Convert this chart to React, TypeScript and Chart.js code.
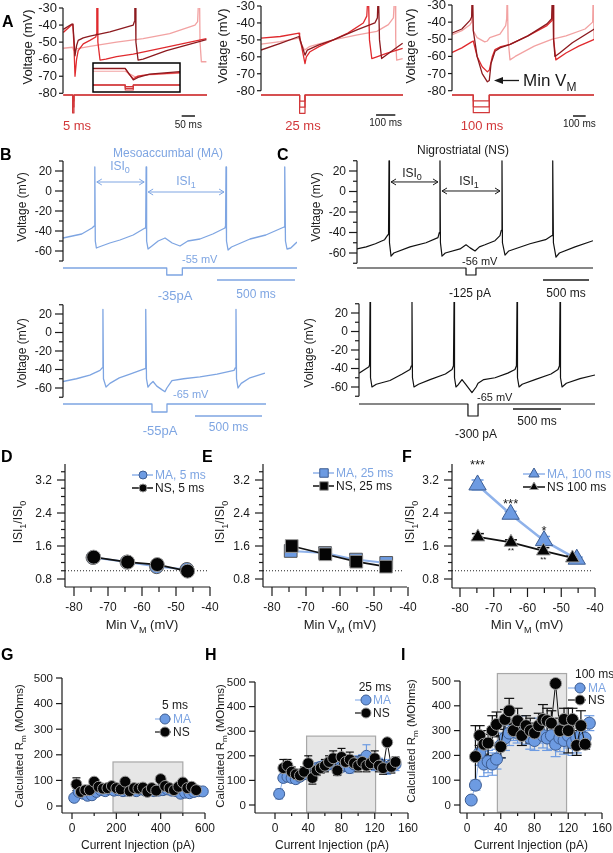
import React, { useEffect, useRef } from 'react';
import { Chart, registerables } from 'chart.js';

Chart.register(...registerables);

const W = 613;
const H = 853;
const FONT = 'Arial, "Liberation Sans", Helvetica, sans-serif';

type Pt = [number, number];
type Part = string | { sub: string };

// ---------- colours ----------
const RED_D = '#8c1a1f';
const RED_M = '#e02a2e';
const RED_L = '#f2a2a2';
const RED_S = '#d2383a';
const BLUE_T = '#7ea5e2';
const MA_FILL = '#6d9be2';
const MA_EDGE = '#3d5d92';
const MA_LINE = '#8fb2ea';
const NS_FILL = '#050505';
const NS_EDGE = '#9a9a9a';
const INK = '#1a1a1a';
const BOX_FILL = '#e6e6e6';
const BOX_EDGE = '#a8a8a8';

// ================= DATA =================
// Panel A (time ms, membrane voltage mV)
const aVoltTicks = [-30, -40, -50, -60, -70, -80];
const aStimLevels = [-1, -2, -3];
const a1Pulse: Pt = [35, 40];
const a2Pulse: Pt = [200, 228];
const a3Pulse: Pt = [170, 296];
const a1Dark: Pt[] = [[0, -42.5], [31, -39.5], [36, -39.5], [40, -48], [44, -58], [50, -52], [56, -49], [75, -47.5], [100, -46.5], [175, -44], [263, -40], [267, -38], [269, -20], [271, -20], [273, -50], [281, -60.5], [300, -60], [388, -55], [538, -48.5]];
const a1Red: Pt[] = [[0, -44.3], [31, -40], [36, -39.5], [40, -52], [44, -70], [50, -60], [56, -55], [75, -51], [100, -49], [122, -47], [125, -45], [126, -20], [128, -20], [130, -50], [138, -60.5], [160, -60], [200, -58.5], [263, -57], [388, -53], [538, -48]];
const a1Pink: Pt[] = [[0, -53.6], [35, -53], [40, -55], [48, -54], [100, -52.5], [200, -50], [300, -48], [400, -45], [495, -40], [505, -38], [510, -20], [512, -20], [514, -50], [519, -61.5], [538, -61.5]];
const insetPulse: Pt = [20, 25];
const insetDark: Pt[] = [[0, -40], [20, -40], [22, -47], [25, -58], [28, -54], [35, -49], [54, -45]];
const insetRed: Pt[] = [[0, -40.5], [20, -40.5], [22, -48], [25, -56], [28, -52], [35, -49.5], [54, -46.5]];
const insetPink: Pt[] = [[0, -44.5], [20, -44.5], [23, -49], [26, -53], [31, -50.5], [54, -47.5]];
const a2Red: Pt[] = [[0, -49], [100, -48], [197, -46], [200, -48], [228, -64], [235, -60], [254, -57], [300, -54], [375, -50], [450, -46], [530, -40], [548, -36], [556, -20], [558, -20], [562, -50], [574, -61], [600, -60], [650, -58], [734, -55]];
const a2Dark: Pt[] = [[0, -56], [100, -52], [197, -48], [200, -49], [228, -59], [240, -56], [300, -53], [375, -50], [500, -44], [590, -40], [603, -37], [608, -20], [610, -20], [614, -50], [625, -61], [660, -58], [734, -52]];
const a2Pink: Pt[] = [[0, -52.5], [100, -51], [197, -49], [202, -51], [226, -56], [250, -54], [375, -50], [500, -47], [600, -45], [660, -41], [686, -37], [694, -20], [696, -20], [698, -50], [703, -62], [734, -61]];
const a3Dark: Pt[] = [[0, -46.5], [80, -44], [144, -39], [157, -37], [163, -20], [166, -20], [170, -45], [200, -60], [240, -70], [281, -74.8], [296, -74], [310, -64], [341, -57], [380, -55], [460, -53], [600, -48], [750, -41], [787, -38], [795, -20], [798, -20], [802, -50], [813, -60], [850, -58], [950, -52], [1123, -44]];
const a3Red: Pt[] = [[0, -57.8], [80, -55], [157, -51.5], [170, -51], [200, -60], [240, -66], [281, -69], [296, -68], [320, -60], [341, -56], [380, -54.5], [460, -53], [600, -48], [750, -42], [790, -39], [798, -20], [800, -20], [805, -50], [820, -62], [900, -58], [1000, -54], [1123, -50]];
const a3Pink: Pt[] = [[0, -47.5], [80, -45], [144, -41.5], [157, -40], [163, -20], [166, -20], [170, -45], [200, -49], [260, -51.5], [281, -51], [300, -49], [380, -47], [425, -42], [433, -38], [438, -20], [440, -20], [444, -50], [459, -62], [500, -60], [650, -54], [787, -50], [900, -48], [1050, -44], [1110, -40], [1115, -20], [1118, -20], [1121, -50], [1123, -60]];

// Panels B, C (time ms, voltage mV, injected current pA)
const bcMajor = [-60, -40, -20, 0, 20];
const bcMinor = [-70, -50, -30, -10, 10, 30];
const b1Trace: Pt[] = [[0, -47], [60, -45], [120, -43], [186, -37], [200, -35], [204, 24], [207, -50], [214, -57], [230, -56], [300, -52], [365, -49], [450, -44], [526, -37], [530, -35], [533, 24], [536, -50], [545, -58], [570, -55], [610, -50], [654, -47], [700, -52], [750, -55], [770, -53], [800, -50], [878, -48], [960, -43], [1038, -37], [1042, -35], [1045, 24], [1048, -50], [1058, -59], [1080, -56], [1199, -48], [1300, -44], [1417, -36], [1420, -35], [1423, 24], [1426, -50], [1436, -58], [1460, -57], [1500, -51]];
const b1Pulse: Pt = [665, 765];
const b1Amp = -35;
const b1Spikes = [204, 533, 1045];
const b2Trace: Pt[] = [[0, -53], [100, -50], [200, -46], [276, -41], [294, -38], [298, 25], [302, -50], [321, -59], [350, -55], [420, -49], [500, -45], [612, -39], [616, -37], [619, 25], [623, -50], [634, -59], [650, -56], [672, -53], [700, -58], [740, -62], [761, -64], [775, -60], [813, -52], [900, -50], [1022, -48], [1150, -45], [1276, -41], [1287, -38], [1291, 25], [1295, -50], [1306, -60], [1330, -55], [1395, -49], [1507, -44]];
const b2Pulse: Pt = [664, 776];
const b2Amp = -55;
const c1Trace: Pt[] = [[0, -56], [100, -54], [200, -51], [300, -47], [337, -42], [343, -38], [348, 30], [353, -50], [370, -63], [400, -60], [576, -54], [750, -50], [880, -45], [895, -40], [902, 30], [907, -50], [924, -63], [960, -60], [1120, -56], [1185, -52], [1230, -55], [1283, -58], [1330, -54], [1391, -52], [1500, -48], [1554, -43], [1568, -38], [1576, 30], [1581, -50], [1609, -62], [1650, -58], [1880, -51], [2050, -47], [2120, -43], [2125, -38], [2130, 30], [2135, -50], [2163, -64], [2200, -60], [2370, -54], [2565, -48]];
const c1Pulse: Pt = [1185, 1293];
const c1Amp = -125;
const c1Spikes = [348, 902, 1576];
const c2Trace: Pt[] = [[0, -45], [104, -38], [110, -36], [115, 32], [120, -50], [135, -60], [180, -57], [323, -53], [450, -46], [531, -41], [546, -37], [552, 32], [557, -50], [573, -60], [620, -57], [740, -52], [900, -46], [969, -41], [984, -37], [990, 32], [995, -50], [1010, -60], [1030, -58], [1073, -52], [1110, -57], [1177, -66], [1220, -60], [1240, -56], [1300, -52], [1417, -50], [1550, -45], [1625, -41], [1640, -37], [1646, 32], [1651, -50], [1667, -60], [1700, -57], [1833, -52], [2000, -46], [2073, -41], [2088, -37], [2094, 32], [2099, -50], [2115, -60], [2160, -56], [2302, -51], [2458, -47]];
const c2Pulse: Pt = [1135, 1240];
const c2Amp = -300;

// Panels D, E, F (Min VM mV vs ISI1/ISI0)
const ratioTicks = [0.8, 1.6, 2.4, 3.2];
const ratioMinor = [1.0, 1.2, 1.4, 1.8, 2.0, 2.2, 2.6, 2.8, 3.0, 3.4];
const vmTicks = [-80, -70, -60, -50, -40];
const vmMinor = [-75, -65, -55, -45];
const dMaX = [-74.4, -64.4, -55.7, -46.8];
const dMaY = [1.32, 1.21, 1.1, 1.03];
const dMaErr = [0.04, 0.04, 0.05, 0.06];
const dNsX = [-74.2, -64.2, -55.5, -46.6];
const dNsY = [1.33, 1.21, 1.15, 0.99];
const dNsErr = [0.03, 0.03, 0.04, 0.06];
const eMaX = [-74.5, -64.4, -55.3, -46.4];
const eMaY = [1.48, 1.43, 1.27, 1.19];
const eMaErr = [0.05, 0.04, 0.05, 0.04];
const eNsX = [-74.2, -64.3, -55.2, -46.5];
const eNsY = [1.6, 1.4, 1.22, 1.1];
const eNsErr = [0.05, 0.04, 0.05, 0.04];
const fMaX = [-74.8, -65, -55.1, -45.4];
const fMaY = [3.08, 2.37, 1.73, 1.28];
const fMaErr = [0.12, 0.07, 0.1, 0.05];
const fNsX = [-74.7, -64.9, -55.3, -46.7];
const fNsY = [1.82, 1.69, 1.48, 1.31];
const fNsErr = [0.08, 0.06, 0.08, 0.05];
const fMaStars = ['***', '***', '*', ''];
const fMaStarY = [3.47, 2.52, 1.87, 0];
const fNsStars = ['', '**', '**', ''];
const fNsStarY = [0, 1.42, 1.22, 0];

// Panels G, H, I (current injection pA vs calculated Rm MOhms)
const rmTicks = [0, 100, 200, 300, 400, 500];
const gTicks = [0, 200, 400, 600];
const gMinor = [100, 300, 500];
const hiTicks = [0, 40, 80, 120, 160];
const hiMinor = [20, 60, 100, 140];
const gBoxX = [185, 500];
const gBoxTop = 172;
const hBoxX = [38, 121];
const hBoxTop = 280;
const iBoxX = [36, 118];
const iBoxTop = 530;
const gNsX = [20, 40, 60, 80, 100, 120, 140, 160, 180, 200, 220, 240, 260, 280, 300, 320, 340, 360, 380, 400, 420, 440, 460, 480, 500, 520, 540, 560];
const gNsY = [85, 55, 62, 62, 95, 75, 68, 70, 78, 70, 65, 95, 58, 70, 68, 72, 55, 70, 60, 105, 78, 70, 62, 75, 92, 70, 75, 62];
const gNsErr = [25, 10, 10, 8, 10, 10, 10, 10, 10, 10, 10, 12, 10, 10, 10, 10, 10, 10, 10, 12, 10, 10, 10, 10, 12, 10, 10, 8];
const gMaX = [10, 30, 50, 70, 90, 110, 130, 150, 170, 190, 210, 230, 250, 270, 290, 310, 330, 350, 370, 390, 410, 430, 450, 470, 490, 510, 530, 550, 570, 590];
const gMaY = [32, 55, 48, 40, 42, 55, 62, 58, 65, 60, 62, 58, 60, 62, 58, 65, 60, 62, 58, 60, 62, 65, 60, 58, 48, 52, 50, 55, 58, 57];
const gMaErr = [10, 8, 8, 8, 8, 8, 8, 8, 8, 8, 8, 8, 8, 8, 8, 8, 8, 8, 8, 8, 8, 8, 8, 8, 8, 8, 8, 8, 8, 8];
const hNsX = [10, 15, 20, 25, 30, 35, 40, 45, 50, 55, 60, 65, 70, 75, 80, 85, 90, 95, 100, 105, 110, 115, 120, 125, 130, 135, 140, 145];
const hNsY = [150, 160, 135, 125, 120, 135, 170, 110, 140, 150, 160, 175, 190, 140, 195, 175, 185, 170, 160, 175, 160, 170, 190, 160, 150, 255, 155, 175];
const hNsErr = [35, 25, 20, 20, 20, 20, 30, 25, 20, 20, 25, 25, 30, 20, 35, 25, 30, 25, 25, 25, 25, 25, 30, 25, 25, 10, 25, 20];
const hMaX = [5, 10, 15, 20, 25, 30, 35, 40, 45, 50, 55, 60, 65, 70, 75, 80, 85, 90, 95, 100, 105, 110, 115, 120, 125, 130, 135, 140, 145];
const hMaY = [45, 110, 115, 110, 105, 115, 125, 135, 140, 150, 155, 160, 165, 170, 160, 155, 160, 150, 165, 175, 180, 200, 170, 165, 165, 160, 150, 160, 165];
const hMaErr = [20, 15, 15, 15, 15, 15, 15, 20, 20, 20, 20, 20, 20, 25, 20, 20, 20, 20, 25, 25, 25, 45, 25, 25, 25, 25, 25, 25, 25];
const iNsX = [10, 15, 20, 25, 30, 35, 40, 45, 50, 55, 60, 65, 70, 75, 80, 85, 90, 95, 100, 105, 110, 115, 120, 125, 130, 135, 140];
const iNsY = [195, 280, 245, 250, 300, 325, 235, 345, 380, 300, 340, 280, 320, 300, 290, 320, 345, 340, 330, 490, 300, 345, 300, 345, 240, 320, 245];
const iNsErr = [125, 40, 40, 50, 60, 50, 45, 40, 50, 25, 50, 40, 40, 50, 40, 50, 60, 50, 50, 10, 50, 45, 90, 45, 40, 60, 20];
const iMaX = [5, 10, 15, 20, 25, 30, 35, 40, 45, 50, 55, 60, 65, 70, 75, 80, 85, 90, 95, 100, 105, 110, 115, 120, 125, 130, 135, 140, 145];
const iMaY = [20, 80, 210, 165, 175, 165, 185, 240, 270, 290, 300, 290, 310, 290, 270, 260, 300, 280, 270, 280, 245, 270, 260, 280, 250, 270, 280, 270, 330];
const iMaErr = [10, 20, 50, 50, 45, 45, 40, 50, 50, 50, 40, 40, 50, 45, 45, 40, 50, 50, 50, 55, 50, 55, 55, 50, 50, 60, 55, 40, 30];

// ================= HELPERS =================
const toXY = (pts: Pt[]) => pts.map(([x, y]) => ({ x, y }));
const zipXY = (xs: number[], ys: number[]) => xs.map((x, i) => ({ x, y: ys[i] }));

function cal(p1: number, v1: number, p2: number, v2: number, pa: number, pb: number): [number, number] {
  const k = (v2 - v1) / (p2 - p1);
  return [v1 + (pa - p1) * k, v1 + (pb - p1) * k];
}

function pulseTrace(p: Pt, level: number, tEnd: number): Pt[] {
  return [[0, 0], [p[0], 0], [p[0], level], [p[1], level], [p[1], 0], [tEnd, 0]];
}

function trace(pts: Pt[], color: string, width = 1.3, yAxisID = 'y') {
  return {
    data: toXY(pts), showLine: true, borderColor: color, borderWidth: width,
    pointRadius: 0, pointHoverRadius: 0, yAxisID, borderJoinStyle: 'round', tension: 0,
  };
}

function series(xs: number[], ys: number[], o: any) {
  return {
    data: zipXY(xs, ys), showLine: true, borderColor: o.line, borderWidth: o.lw,
    pointStyle: o.style, pointRadius: o.r, pointHoverRadius: o.r,
    pointBackgroundColor: o.fill, pointBorderColor: o.stroke, pointBorderWidth: o.bw ?? 1,
    clip: false, tension: 0,
  };
}

function cfg(area: number[], scales: Record<string, [number, number]>, datasets: any[], under?: (c: any) => void, over?: (c: any) => void) {
  const [L, T, R, B] = area;
  const sc: any = {};
  Object.keys(scales).forEach((k) => {
    sc[k] = { type: 'linear', display: false, min: scales[k][0], max: scales[k][1] };
  });
  return {
    type: 'scatter',
    data: { datasets },
    options: {
      responsive: false, animation: false, events: [],
      layout: { padding: { left: L, top: T, right: W - R, bottom: H - B } },
      plugins: { legend: { display: false }, tooltip: { enabled: false } },
      scales: sc,
    },
    plugins: [{
      id: 'deco',
      beforeDatasetsDraw: (c: any) => { if (under) { c.ctx.save(); under(c); c.ctx.restore(); } },
      afterDatasetsDraw: (c: any) => { if (over) { c.ctx.save(); over(c); c.ctx.restore(); } },
    }],
  };
}

const X = (c: any, v: number, id = 'x') => c.scales[id].getPixelForValue(v);
const Y = (c: any, v: number, id = 'y') => c.scales[id].getPixelForValue(v);

function seg(ctx: CanvasRenderingContext2D, x1: number, y1: number, x2: number, y2: number) {
  ctx.beginPath(); ctx.moveTo(x1, y1); ctx.lineTo(x2, y2); ctx.stroke();
}

function rich(ctx: CanvasRenderingContext2D, parts: Part[], x: number, y: number, size: number, color: string,
  align: 'left' | 'center' | 'right' = 'left', rot = 0, bold = false) {
  ctx.save();
  ctx.translate(x, y);
  if (rot) ctx.rotate(rot);
  const items = parts.map((p) => (typeof p === 'string' ? { s: p, sub: false } : { s: p.sub, sub: true }));
  const f = (sub: boolean) => `${bold ? 'bold ' : ''}${sub ? Math.round(size * 0.72) : size}px ${FONT}`;
  let total = 0;
  const ws = items.map((it) => { ctx.font = f(it.sub); const w = ctx.measureText(it.s).width; total += w; return w; });
  let cx = align === 'left' ? 0 : align === 'center' ? -total / 2 : -total;
  ctx.fillStyle = color; ctx.textAlign = 'left'; ctx.textBaseline = 'alphabetic';
  items.forEach((it, i) => { ctx.font = f(it.sub); ctx.fillText(it.s, cx, it.sub ? size * 0.28 : 0); cx += ws[i]; });
  ctx.restore();
}

const txt = (ctx: CanvasRenderingContext2D, s: string, x: number, y: number, size: number, color: string, align: 'left' | 'center' | 'right' = 'left', bold = false) =>
  rich(ctx, [s], x, y, size, color, align, 0, bold);

const vtext = (ctx: CanvasRenderingContext2D, parts: Part[], cx: number, cy: number, size: number, color: string) =>
  rich(ctx, parts, cx + size * 0.36, cy, size, color, 'center', -Math.PI / 2);

const letter = (ctx: CanvasRenderingContext2D, s: string, x: number, y: number) => txt(ctx, s, x, y, 16, '#000', 'left', true);

interface AxisOpt { from: number; to: number; major: number[]; minor?: number[]; len?: number; mlen?: number; gap?: number; size?: number; dec?: number; lw?: number }

function yAxis(c: any, o: AxisOpt) {
  const ctx: CanvasRenderingContext2D = c.ctx;
  const x = c.chartArea.left;
  ctx.save();
  ctx.strokeStyle = INK; ctx.fillStyle = INK; ctx.lineWidth = o.lw ?? 1.2;
  seg(ctx, x, Y(c, o.from), x, Y(c, o.to));
  const len = o.len ?? 5;
  (o.minor || []).forEach((v) => { const y = Y(c, v); seg(ctx, x - (o.mlen ?? 3), y, x, y); });
  ctx.font = `${o.size ?? 12}px ${FONT}`; ctx.textAlign = 'right'; ctx.textBaseline = 'middle';
  o.major.forEach((v) => {
    const y = Y(c, v);
    seg(ctx, x - len, y, x, y);
    ctx.fillText(o.dec != null ? v.toFixed(o.dec) : String(v), x - len - (o.gap ?? 3), y + 0.5);
  });
  ctx.restore();
}

function xAxis(c: any, o: AxisOpt) {
  const ctx: CanvasRenderingContext2D = c.ctx;
  const y = c.chartArea.bottom;
  ctx.save();
  ctx.strokeStyle = INK; ctx.fillStyle = INK; ctx.lineWidth = o.lw ?? 1.2;
  seg(ctx, X(c, o.from), y, X(c, o.to), y);
  const len = o.len ?? 5;
  (o.minor || []).forEach((v) => { const x = X(c, v); seg(ctx, x, y, x, y + (o.mlen ?? 3)); });
  ctx.font = `${o.size ?? 12}px ${FONT}`; ctx.textAlign = 'center'; ctx.textBaseline = 'top';
  o.major.forEach((v) => {
    const x = X(c, v);
    seg(ctx, x, y, x, y + len);
    ctx.fillText(String(v), x, y + len + (o.gap ?? 3));
  });
  ctx.restore();
}

function drawMarker(ctx: CanvasRenderingContext2D, x: number, y: number, m: any) {
  ctx.beginPath();
  if (m.style === 'circle') ctx.arc(x, y, m.r, 0, Math.PI * 2);
  else if (m.style === 'rect') { const s = m.r * Math.SQRT1_2; ctx.rect(x - s, y - s, 2 * s, 2 * s); }
  else {
    const a = (2 * Math.PI) / 3;
    ctx.moveTo(x, y - m.r);
    ctx.lineTo(x + Math.sin(a) * m.r, y - Math.cos(a) * m.r);
    ctx.lineTo(x + Math.sin(2 * a) * m.r, y - Math.cos(2 * a) * m.r);
    ctx.closePath();
  }
  ctx.fillStyle = m.fill; ctx.fill();
  ctx.strokeStyle = m.stroke; ctx.lineWidth = 1; ctx.stroke();
}

function legendItem(ctx: CanvasRenderingContext2D, x1: number, x2: number, mx: number, tx: number, y: number, line: string, lw: number, m: any, text: string, color: string, size = 12) {
  ctx.save();
  ctx.strokeStyle = line; ctx.lineWidth = lw; seg(ctx, x1, y, x2, y);
  drawMarker(ctx, mx, y, m);
  ctx.font = `${size}px ${FONT}`; ctx.fillStyle = color; ctx.textAlign = 'left'; ctx.textBaseline = 'middle';
  ctx.fillText(text, tx, y + 0.5);
  ctx.restore();
}

function errBars(c: any, xs: number[], ys: number[], es: number[], color: string, cap = 4, lw = 1.2) {
  const ctx: CanvasRenderingContext2D = c.ctx;
  ctx.save(); ctx.strokeStyle = color; ctx.lineWidth = lw;
  xs.forEach((xv, i) => {
    const x = X(c, xv); const y1 = Y(c, ys[i] + es[i]); const y2 = Y(c, ys[i] - es[i]);
    seg(ctx, x, y1, x, y2); seg(ctx, x - cap, y1, x + cap, y1); seg(ctx, x - cap, y2, x + cap, y2);
  });
  ctx.restore();
}

function scaleBar(c: any, t0: number, len: number, y: number, label: string, ty: number, size: number, color: string) {
  const ctx: CanvasRenderingContext2D = c.ctx;
  const x0 = X(c, t0); const x1 = X(c, t0 + len);
  ctx.save(); ctx.strokeStyle = color; ctx.lineWidth = 1.5; seg(ctx, x0, y, x1, y); ctx.restore();
  txt(ctx, label, (x0 + x1) / 2, ty, size, color, 'center');
}

function isiArrow(c: any, t0: number, t1: number, v: number, color: string) {
  const ctx: CanvasRenderingContext2D = c.ctx;
  const x0 = X(c, t0) + 2; const x1 = X(c, t1) - 2; const y = Y(c, v);
  ctx.save(); ctx.strokeStyle = color; ctx.lineWidth = 1;
  seg(ctx, x0, y, x1, y);
  ctx.beginPath(); ctx.moveTo(x0 + 5, y - 3); ctx.lineTo(x0, y); ctx.lineTo(x0 + 5, y + 3); ctx.stroke();
  ctx.beginPath(); ctx.moveTo(x1 - 5, y - 3); ctx.lineTo(x1, y); ctx.lineTo(x1 - 5, y + 3); ctx.stroke();
  ctx.restore();
}

function grayBox(c: any, bx: number[], top: number) {
  const ctx: CanvasRenderingContext2D = c.ctx;
  const x0 = X(c, bx[0]); const x1 = X(c, bx[1]); const y0 = Y(c, top); const y1 = c.chartArea.bottom - 1;
  ctx.save(); ctx.fillStyle = BOX_FILL; ctx.fillRect(x0, y0, x1 - x0, y1 - y0);
  ctx.strokeStyle = BOX_EDGE; ctx.lineWidth = 1.2; ctx.strokeRect(x0, y0, x1 - x0, y1 - y0); ctx.restore();
}

const aStimSets = (p: Pt, tEnd: number) => aStimLevels.map((l) => trace(pulseTrace(p, l, tEnd), RED_S, 1.2, 'ys'));
const aAxis = (c: any, lx: number, ly: number) => {
  yAxis(c, { from: -80, to: -30, major: aVoltTicks, len: 4, gap: 2, size: 13 });
  vtext(c.ctx, ['Voltage (mV)'], lx, ly, 13, INK);
};
const bcAxis = (c: any, lx: number, ly: number) => {
  yAxis(c, { from: -70, to: 30, major: bcMajor, minor: bcMinor, len: 8, mlen: 4, gap: 3, size: 12 });
  vtext(c.ctx, ['Voltage (mV)'], lx, ly, 12, INK);
};
const ratioAxes = (c: any, lx: number, tx: number) => {
  yAxis(c, { from: c.scales.y.min, to: c.scales.y.max, major: ratioTicks, minor: ratioMinor, len: 8, mlen: 4, gap: 5, size: 12, dec: 1 });
  xAxis(c, { from: c.scales.x.min, to: c.scales.x.max, major: vmTicks, minor: vmMinor, len: 9, mlen: 5, gap: 6, size: 12 });
  vtext(c.ctx, ['ISI', { sub: '1' }, '/ISI', { sub: '0' }], lx, 522, 12, INK);
  rich(c.ctx, ['Min V', { sub: 'M' }, ' (mV)'], tx, 629, 13, INK, 'center');
};
const dotted = (c: any) => {
  const ctx: CanvasRenderingContext2D = c.ctx;
  ctx.save(); ctx.strokeStyle = '#222'; ctx.lineWidth = 1; ctx.setLineDash([1, 2]);
  const y = Y(c, 1.0); seg(ctx, c.chartArea.left, y, c.chartArea.right - 3, y); ctx.restore();
};
const rmAxes = (c: any, xMajor: number[], xMinor: number[], lx: number, ly: number, tx: number) => {
  yAxis(c, { from: c.scales.y.min, to: 500, major: rmTicks, len: 6, gap: 3, size: 11.5 });
  xAxis(c, { from: c.scales.x.min, to: c.scales.x.max, major: xMajor, minor: xMinor, len: 6, mlen: 3, gap: 4, size: 12 });
  vtext(c.ctx, ['Calculated R', { sub: 'm' }, ' (MOhms)'], lx, ly, 11.5, INK);
  txt(c.ctx, 'Current Injection (pA)', tx, 849, 12, INK, 'center');
};

const maCircle = { style: 'circle', r: 4, fill: MA_FILL, stroke: MA_EDGE };
const nsCircle = { style: 'circle', r: 4, fill: NS_FILL, stroke: NS_EDGE };

// ================= PANELS =================
const makeA1 = () => {
  const x = cal(63.3, 0, 76.6, 50, 63, 207);
  return cfg([63, 8, 207, 118], { x, y: cal(8, -30, 93.3, -80, 118, 8), ys: cal(95, 0, 113, -3, 118, 8) },
    [trace(a1Dark, RED_D), trace(a1Red, RED_M), trace(a1Pink, RED_L), ...aStimSets(a1Pulse, x[1])], undefined,
    (c) => {
      aAxis(c, 27, 47);
      letter(c.ctx, 'A', 2, 27);
      txt(c.ctx, '5 ms', 77, 130, 13, RED_S, 'center');
      scaleBar(c, 445, 50, 116, '50 ms', 128, 10, INK);
    });
};

const makeInset = () => cfg([93, 63, 180, 92], { x: [0, 54], y: cal(68.3, -40, 80, -58, 92, 63), ys: cal(85, 0, 90, -3, 92, 63) },
  [trace(insetDark, RED_D, 1.2), trace(insetRed, RED_M, 1.2), trace(insetPink, RED_L, 1.2),
    ...aStimLevels.map((l) => trace(pulseTrace(insetPulse, l, 54), RED_S, 1.1, 'ys'))],
  (c) => { const a = c.chartArea; c.ctx.fillStyle = '#fff'; c.ctx.fillRect(a.left, a.top, a.right - a.left, a.bottom - a.top); },
  (c) => { const a = c.chartArea; c.ctx.strokeStyle = '#000'; c.ctx.lineWidth = 1.5; c.ctx.strokeRect(a.left, a.top, a.right - a.left, a.bottom - a.top); });

const makeA2 = () => {
  const x = cal(261, 0, 280.3, 100, 261, 403);
  return cfg([261, 6, 403, 118], { x, y: cal(6, -30, 90.7, -80, 118, 6), ys: cal(95, 0, 113.3, -3, 118, 6) },
    [trace(a2Dark, RED_D), trace(a2Red, RED_M), trace(a2Pink, RED_L), ...aStimSets(a2Pulse, x[1])], undefined,
    (c) => {
      aAxis(c, 222, 46);
      txt(c.ctx, '25 ms', 303, 130, 13, RED_S, 'center');
      scaleBar(c, 596, 100, 115, '100 ms', 126, 10, INK);
    });
};

const makeA3 = () => {
  const x = cal(451.7, 0, 464.4, 100, 452, 594);
  return cfg([452, 5, 594, 118], { x, y: cal(5, -30, 90.7, -80, 118, 5), ys: cal(95, 0, 112.7, -3, 118, 5) },
    [trace(a3Dark, RED_D), trace(a3Red, RED_M), trace(a3Pink, RED_L), ...aStimSets(a3Pulse, x[1])], undefined,
    (c) => {
      const ctx: CanvasRenderingContext2D = c.ctx;
      aAxis(c, 410, 46);
      txt(ctx, '100 ms', 482, 130, 13, RED_S, 'center');
      scaleBar(c, 955, 100, 116, '100 ms', 127, 10, INK);
      ctx.strokeStyle = INK; ctx.lineWidth = 1.3; seg(ctx, 519, 80.5, 500, 80.5);
      ctx.fillStyle = INK; ctx.beginPath(); ctx.moveTo(494, 80.5); ctx.lineTo(503, 77); ctx.lineTo(503, 84); ctx.closePath(); ctx.fill();
      rich(ctx, ['Min V', { sub: 'M' }], 523, 86, 17, INK, 'left');
    });
};

const makeB1 = () => {
  const x = cal(63, 0, 141, 500, 63, 297);
  return cfg([63, 160, 297, 282], { x, y: cal(171, 20, 251, -60, 282, 160), ys: cal(268, 0, 275, -35, 282, 160) },
    [trace(b1Trace, BLUE_T, 1.3), trace(pulseTrace(b1Pulse, b1Amp, x[1]), BLUE_T, 1.3, 'ys')], undefined,
    (c) => {
      const ctx: CanvasRenderingContext2D = c.ctx;
      bcAxis(c, 22, 207);
      letter(ctx, 'B', 0, 160);
      txt(ctx, 'Mesoaccumbal (MA)', 168, 157, 12, BLUE_T, 'center');
      isiArrow(c, b1Spikes[0], b1Spikes[1], 9, BLUE_T);
      isiArrow(c, b1Spikes[1], b1Spikes[2], -1, BLUE_T);
      rich(ctx, ['ISI', { sub: '0' }], 120, 170, 12, BLUE_T, 'center');
      rich(ctx, ['ISI', { sub: '1' }], 186, 185, 12, BLUE_T, 'center');
      txt(ctx, '-55 mV', 182, 263, 11, BLUE_T, 'left');
      txt(ctx, '-35pA', 175, 300, 13, BLUE_T, 'center');
      scaleBar(c, 987, 500, 280, '500 ms', 298, 12, BLUE_T);
    });
};

const makeB2 = () => {
  const x = cal(63, 0, 130, 500, 63, 266);
  return cfg([63, 305, 266, 420], { x, y: cal(314, 20, 388, -60, 420, 305), ys: cal(404, 0, 412, -55, 420, 305) },
    [trace(b2Trace, BLUE_T, 1.3), trace(pulseTrace(b2Pulse, b2Amp, x[1]), BLUE_T, 1.3, 'ys')], undefined,
    (c) => {
      const ctx: CanvasRenderingContext2D = c.ctx;
      bcAxis(c, 22, 353);
      txt(ctx, '-65 mV', 173, 398, 11, BLUE_T, 'left');
      txt(ctx, '-55pA', 160, 435, 13, BLUE_T, 'center');
      scaleBar(c, 985, 500, 416, '500 ms', 431, 12, BLUE_T);
    });
};

const makeC1 = () => {
  const x = cal(357, 0, 403, 500, 357, 593);
  return cfg([357, 160, 593, 282], { x, y: cal(171, 20, 253, -60, 282, 160), ys: cal(268, 0, 275, -125, 282, 160) },
    [trace(c1Trace, '#111', 1.2), trace(pulseTrace(c1Pulse, c1Amp, x[1]), '#111', 1.2, 'ys')], undefined,
    (c) => {
      const ctx: CanvasRenderingContext2D = c.ctx;
      bcAxis(c, 316, 207);
      letter(ctx, 'C', 277, 160);
      txt(ctx, 'Nigrostriatal (NS)', 463, 154, 12, INK, 'center');
      isiArrow(c, c1Spikes[0], c1Spikes[1], 9.3, INK);
      isiArrow(c, c1Spikes[1], c1Spikes[2], 0.5, INK);
      rich(ctx, ['ISI', { sub: '0' }], 412, 177, 12, INK, 'center');
      rich(ctx, ['ISI', { sub: '1' }], 469, 185, 12, INK, 'center');
      txt(ctx, '-56 mV', 462, 265, 11, INK, 'left');
      txt(ctx, '-125 pA', 470, 297, 12, INK, 'center');
      scaleBar(c, 2022, 500, 280, '500 ms', 297, 12, INK);
    });
};

const makeC2 = () => {
  const x = cal(359, 0, 407, 500, 359, 595);
  return cfg([359, 302, 595, 420], { x, y: cal(313, 20, 387, -60, 420, 302), ys: cal(404, 0, 416, -300, 420, 302) },
    [trace(c2Trace, '#111', 1.2), trace(pulseTrace(c2Pulse, c2Amp, x[1]), '#111', 1.2, 'ys')], undefined,
    (c) => {
      const ctx: CanvasRenderingContext2D = c.ctx;
      bcAxis(c, 309, 353);
      txt(ctx, '-65 mV', 477, 401, 11, INK, 'left');
      txt(ctx, '-300 pA', 476, 438, 12, INK, 'center');
      scaleBar(c, 1604, 500, 409, '500 ms', 425, 12, INK);
    });
};

const makeD = () => cfg([65, 464, 210, 587], { x: cal(74, -80, 176, -50, 65, 210), y: cal(579, 0.8, 546, 1.6, 587, 464) },
  [series(dNsX, dNsY, { line: '#111', lw: 1.8, style: 'circle', r: 7, fill: NS_FILL, stroke: NS_EDGE }),
    series(dMaX, dMaY, { line: MA_LINE, lw: 2, style: 'circle', r: 7, fill: MA_FILL, stroke: '#555' })],
  (c) => { dotted(c); errBars(c, dMaX, dMaY, dMaErr, MA_FILL, 5); errBars(c, dNsX, dNsY, dNsErr, '#111', 5); },
  (c) => {
    const ctx: CanvasRenderingContext2D = c.ctx;
    ratioAxes(c, 18, 142);
    letter(ctx, 'D', 1, 462);
    legendItem(ctx, 132, 153, 143, 155, 475, MA_LINE, 1.5, maCircle, 'MA, 5 ms', BLUE_T);
    legendItem(ctx, 132, 153, 143, 155, 488, '#111', 1.5, nsCircle, 'NS, 5 ms', INK);
  });

const makeE = () => cfg([263, 464, 407, 587], { x: cal(272, -80, 374, -50, 263, 407), y: cal(579, 0.8, 546, 1.6, 587, 464) },
  [series(eNsX, eNsY, { line: '#111', lw: 1.8, style: 'rect', r: 9, fill: NS_FILL, stroke: NS_EDGE }),
    series(eMaX, eMaY, { line: MA_LINE, lw: 2, style: 'rect', r: 9, fill: MA_FILL, stroke: '#555' })],
  (c) => { dotted(c); errBars(c, eMaX, eMaY, eMaErr, MA_FILL, 5); errBars(c, eNsX, eNsY, eNsErr, '#111', 5); },
  (c) => {
    const ctx: CanvasRenderingContext2D = c.ctx;
    ratioAxes(c, 220, 340);
    letter(ctx, 'E', 202, 462);
    legendItem(ctx, 313, 334, 324, 336, 473, MA_LINE, 1.5, { style: 'rect', r: 6, fill: MA_FILL, stroke: MA_EDGE }, 'MA, 25 ms', BLUE_T);
    legendItem(ctx, 313, 334, 324, 336, 486, '#111', 1.5, { style: 'rect', r: 6, fill: NS_FILL, stroke: NS_EDGE }, 'NS, 25 ms', INK);
  });

const makeF = () => cfg([452, 464, 595, 588], { x: cal(460, -80, 595, -40, 452, 595), y: cal(579, 0.8, 546, 1.6, 588, 464) },
  [series(fNsX, fNsY, { line: '#111', lw: 1.8, style: 'triangle', r: 8, fill: NS_FILL, stroke: NS_EDGE }),
    series(fMaX, fMaY, { line: MA_LINE, lw: 2.5, style: 'triangle', r: 10, fill: MA_FILL, stroke: MA_EDGE })],
  (c) => { dotted(c); errBars(c, fMaX, fMaY, fMaErr, MA_FILL, 6, 1.5); errBars(c, fNsX, fNsY, fNsErr, '#111', 6, 1.5); },
  (c) => {
    const ctx: CanvasRenderingContext2D = c.ctx;
    ratioAxes(c, 410, 527);
    letter(ctx, 'F', 402, 462);
    fMaStars.forEach((s, i) => { if (s) txt(ctx, s, X(c, fMaX[i]), Y(c, fMaStarY[i]), 13, INK, 'center'); });
    fNsStars.forEach((s, i) => { if (s) txt(ctx, s, X(c, fNsX[i]), Y(c, fNsStarY[i]), 8, INK, 'center'); });
    legendItem(ctx, 523, 545, 534, 547, 474, MA_LINE, 1.5, { style: 'triangle', r: 6, fill: MA_FILL, stroke: MA_EDGE }, 'MA, 100 ms', BLUE_T);
    legendItem(ctx, 523, 545, 534, 547, 487, '#111', 1.5, { style: 'triangle', r: 5, fill: NS_FILL, stroke: NS_EDGE }, 'NS 100 ms', INK);
  });

const rmSeries = (nx: number[], ny: number[], mx: number[], my: number[], r: number) => [
  series(nx, ny, { line: '#111', lw: 1, style: 'circle', r, fill: NS_FILL, stroke: NS_EDGE }),
  series(mx, my, { line: MA_LINE, lw: 1, style: 'circle', r, fill: MA_FILL, stroke: MA_EDGE }),
];

const makeG = () => cfg([62, 678, 205, 813], { x: cal(72, 0, 205, 600, 62, 205), y: cal(806, 0, 678, 500, 813, 678) },
  rmSeries(gNsX, gNsY, gMaX, gMaY, 5.5),
  (c) => { grayBox(c, gBoxX, gBoxTop); errBars(c, gMaX, gMaY, gMaErr, MA_FILL, 4); errBars(c, gNsX, gNsY, gNsErr, '#111', 4); },
  (c) => {
    const ctx: CanvasRenderingContext2D = c.ctx;
    rmAxes(c, gTicks, gMinor, 19, 746, 138);
    letter(ctx, 'G', 1, 660);
    txt(ctx, '5 ms', 175, 709, 12, INK, 'center');
    legendItem(ctx, 155, 171, 165, 173, 719, MA_LINE, 1.2, { style: 'circle', r: 5, fill: MA_FILL, stroke: MA_EDGE }, 'MA', BLUE_T);
    legendItem(ctx, 155, 171, 165, 173, 732, '#111', 1.2, { style: 'circle', r: 5, fill: NS_FILL, stroke: NS_EDGE }, 'NS', INK);
  });

const makeH = () => cfg([255, 682, 408, 813], { x: cal(275, 0, 408, 160, 255, 408), y: cal(805, 0, 682, 500, 813, 682) },
  rmSeries(hNsX, hNsY, hMaX, hMaY, 5.5),
  (c) => { grayBox(c, hBoxX, hBoxTop); errBars(c, hMaX, hMaY, hMaErr, MA_FILL, 4); errBars(c, hNsX, hNsY, hNsErr, '#111', 4); },
  (c) => {
    const ctx: CanvasRenderingContext2D = c.ctx;
    rmAxes(c, hiTicks, hiMinor, 220, 746, 332);
    letter(ctx, 'H', 205, 660);
    txt(ctx, '25 ms', 375, 691, 12, INK, 'center');
    legendItem(ctx, 355, 371, 366, 373, 700, MA_LINE, 1.2, { style: 'circle', r: 5, fill: MA_FILL, stroke: MA_EDGE }, 'MA', BLUE_T);
    legendItem(ctx, 355, 371, 366, 373, 713, '#111', 1.2, { style: 'circle', r: 5, fill: NS_FILL, stroke: NS_EDGE }, 'NS', INK);
  });

const makeI = () => cfg([460, 674, 602, 813], { x: cal(467, 0, 602, 160, 460, 602), y: cal(805, 0, 681, 500, 813, 674) },
  rmSeries(iNsX, iNsY, iMaX, iMaY, 6),
  (c) => { grayBox(c, iBoxX, iBoxTop); errBars(c, iMaX, iMaY, iMaErr, MA_FILL, 5); errBars(c, iNsX, iNsY, iNsErr, '#111', 5); },
  (c) => {
    const ctx: CanvasRenderingContext2D = c.ctx;
    rmAxes(c, hiTicks, hiMinor, 411, 741, 531);
    letter(ctx, 'I', 401, 660);
    txt(ctx, '100 ms', 575, 678, 12, INK, 'left');
    legendItem(ctx, 568, 586, 580, 588, 688, MA_LINE, 1.2, { style: 'circle', r: 5, fill: MA_FILL, stroke: MA_EDGE }, 'MA', BLUE_T);
    legendItem(ctx, 568, 586, 580, 588, 700, '#111', 1.2, { style: 'circle', r: 5, fill: NS_FILL, stroke: NS_EDGE }, 'NS', INK);
  });

const PANELS = [makeA1, makeInset, makeA2, makeA3, makeB1, makeB2, makeC1, makeC2, makeD, makeE, makeF, makeG, makeH, makeI];

function Panel({ make }: { make: () => any }) {
  const ref = useRef<HTMLCanvasElement | null>(null);
  useEffect(() => {
    if (!ref.current) return undefined;
    const chart = new Chart(ref.current, make());
    return () => chart.destroy();
  }, [make]);
  return (
    <canvas ref={ref} width={W} height={H}
      style={{ position: 'absolute', left: 0, top: 0, width: W, height: H, pointerEvents: 'none' }} />
  );
}

export default function App() {
  return (
    <div style={{ position: 'absolute', left: 0, top: 0, width: W, height: H, background: '#fff', overflow: 'hidden' }}>
      {PANELS.map((m, i) => <Panel key={i} make={m} />)}
    </div>
  );
}
